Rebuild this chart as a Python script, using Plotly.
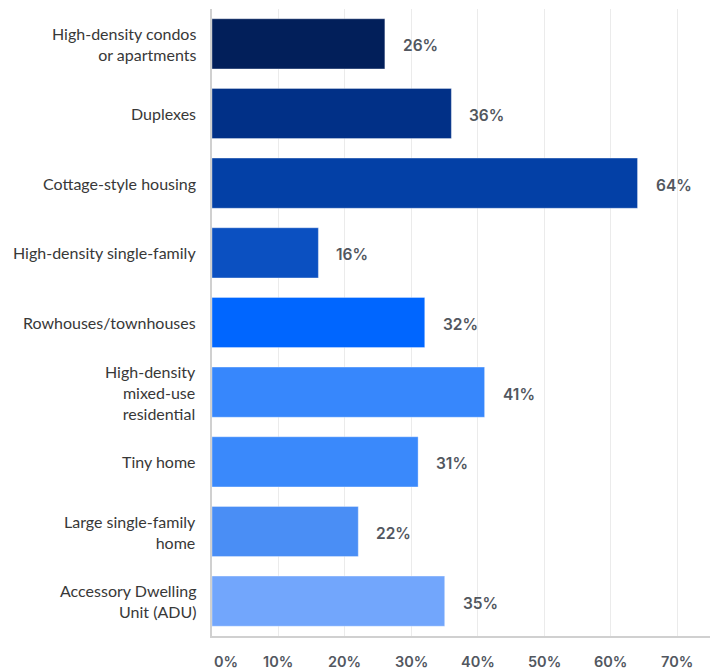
import plotly.graph_objects as go

# Housing types, top to bottom (line breaks as shown on the axis)
categories = [
    "High-density condos<br>or apartments",
    "Duplexes",
    "Cottage-style housing",
    "High-density single-family",
    "Rowhouses/townhouses",
    "High-density<br>mixed-use<br>residential",
    "Tiny home",
    "Large single-family<br>home",
    "Accessory Dwelling<br>Unit (ADU)",
]
values = [26, 36, 64, 16, 32, 41, 31, 22, 35]
bar_colors = [
    "#021f5a", "#013087", "#0340a6", "#0b50c1", "#0066ff",
    "#3787fc", "#3a89fb", "#4a8ef5", "#72a6fc",
]
tick_values = [0, 10, 20, 30, 40, 50, 60, 70]
tick_labels = ["0%", "10%", "20%", "30%", "40%", "50%", "60%", "70%"]

value_font = dict(family="Inter", size=15.5, color="#52575f", weight=600)
tick_font = dict(family="Inter", size=14.5, color="#52575f", weight=600)
cat_font = dict(family="Lato", size=16, color="#383838")

fig = go.Figure(
    go.Bar(
        x=values,
        y=categories,
        orientation="h",
        width=0.72,
        marker=dict(color=bar_colors, line=dict(color="rgba(255,255,255,0.35)", width=1)),
        hoverinfo="skip",
    )
)

# Category labels, right-aligned left of the axis
for cat in categories:
    fig.add_annotation(
        x=0, y=cat, xref="paper", yref="y", text=cat, showarrow=False,
        xanchor="right", yanchor="middle", align="right", xshift=-14,
        font=cat_font,
    )

# Percentage labels just past each bar end
for cat, v in zip(categories, values):
    fig.add_annotation(
        x=v, y=cat, xref="x", yref="y", text=f"{v}%", showarrow=False,
        xanchor="left", xshift=16, yshift=-2, font=value_font,
    )

# X tick labels (first one aligned to the axis origin)
for tv, tl in zip(tick_values, tick_labels):
    fig.add_annotation(
        x=tv, y=0, xref="x", yref="paper", text=tl, showarrow=False,
        xanchor="left" if tv == 0 else "center", yanchor="top",
        yshift=-15, font=tick_font,
    )

fig.update_layout(
    width=710, height=670,
    margin=dict(l=212, r=0, t=9, b=34),
    paper_bgcolor="white", plot_bgcolor="white",
    showlegend=False,
    xaxis=dict(
        range=[0, 74.9], tickvals=tick_values, showticklabels=False,
        showgrid=True, gridcolor="#ebebeb", gridwidth=1, zeroline=False,
        showline=True, linecolor="#d0d0d0", linewidth=1.5, fixedrange=True,
    ),
    yaxis=dict(
        autorange="reversed", showgrid=False, zeroline=False,
        showline=True, linecolor="#d0d0d0", linewidth=1.5,
        ticks="", showticklabels=False,
    ),
)

fig.write_html("out.html")
